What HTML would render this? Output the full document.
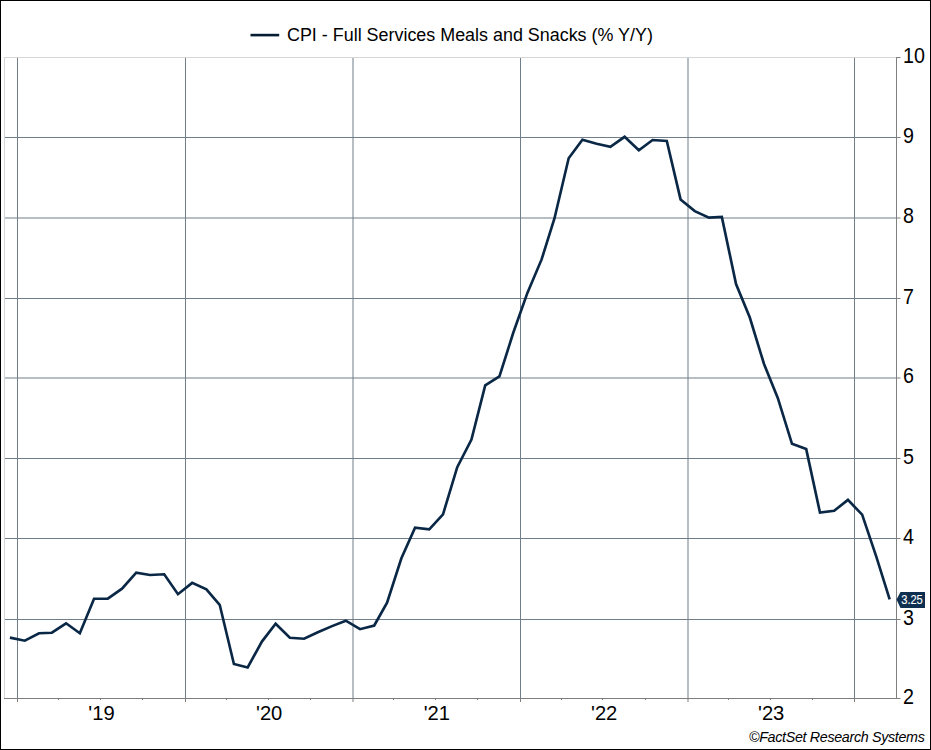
<!DOCTYPE html>
<html><head><meta charset="utf-8"><style>
html,body{margin:0;padding:0;}
body{width:931px;height:750px;position:relative;overflow:hidden;background:#fff;font-family:"Liberation Sans",sans-serif;}
.frame{position:absolute;left:0;top:0;width:931px;height:750px;box-sizing:border-box;border:1px solid #000;}
svg{position:absolute;left:0;top:0;}
.legend{position:absolute;left:287px;top:25px;font-size:17.92px;line-height:20px;color:#000;white-space:nowrap;}
.yl{position:absolute;left:902.8px;font-size:21.4px;transform:scaleX(0.92);transform-origin:0 0;line-height:24px;color:#000;}
.xl{position:absolute;top:701px;width:60px;text-align:center;font-size:20.2px;line-height:24px;color:#000;}
.copy{position:absolute;right:6.5px;top:728.5px;font-size:14.3px;line-height:16px;letter-spacing:-0.33px;font-style:italic;color:#000;white-space:nowrap;}
.tag{position:absolute;left:899.8px;top:592px;width:24px;height:16px;font-size:12.4px;line-height:16px;color:#fff;text-align:center;font-weight:normal;transform:scaleX(0.9);letter-spacing:-0.1px;-webkit-text-stroke:0.1px #fff;}
</style></head><body>
<svg width="931" height="750" viewBox="0 0 931 750">
<line x1="4.5" y1="57" x2="4.5" y2="698" stroke="#d6d6d6" stroke-width="1"/>
<line x1="4" y1="57.5" x2="896" y2="57.5" stroke="#d6d6d6" stroke-width="1"/>
<line x1="5" y1="137.5" x2="896" y2="137.5" stroke="#6f7e89" stroke-width="1"/><line x1="5" y1="218.0" x2="896" y2="218.0" stroke="#6f7e89" stroke-width="1"/><line x1="5" y1="298.5" x2="896" y2="298.5" stroke="#6f7e89" stroke-width="1"/><line x1="5" y1="378.0" x2="896" y2="378.0" stroke="#6f7e89" stroke-width="1"/><line x1="5" y1="458.5" x2="896" y2="458.5" stroke="#6f7e89" stroke-width="1"/><line x1="5" y1="538.5" x2="896" y2="538.5" stroke="#6f7e89" stroke-width="1"/><line x1="5" y1="619.5" x2="896" y2="619.5" stroke="#6f7e89" stroke-width="1"/><line x1="17.5" y1="58" x2="17.5" y2="698" stroke="#6f7e89" stroke-width="1"/><line x1="185.5" y1="58" x2="185.5" y2="698" stroke="#6f7e89" stroke-width="1"/><line x1="353.0" y1="58" x2="353.0" y2="698" stroke="#6f7e89" stroke-width="1"/><line x1="520.5" y1="58" x2="520.5" y2="698" stroke="#6f7e89" stroke-width="1"/><line x1="688.0" y1="58" x2="688.0" y2="698" stroke="#6f7e89" stroke-width="1"/><line x1="854.5" y1="58" x2="854.5" y2="698" stroke="#6f7e89" stroke-width="1"/>
<line x1="896.5" y1="57" x2="896.5" y2="699" stroke="#7f7f7f" stroke-width="1"/>
<line x1="4" y1="698.5" x2="897" y2="698.5" stroke="#7f7f7f" stroke-width="1"/>
<line x1="896" y1="57.5" x2="900.5" y2="57.5" stroke="#7f7f7f" stroke-width="1"/><line x1="896" y1="137.5" x2="900.5" y2="137.5" stroke="#7f7f7f" stroke-width="1"/><line x1="896" y1="218.0" x2="900.5" y2="218.0" stroke="#7f7f7f" stroke-width="1"/><line x1="896" y1="298.5" x2="900.5" y2="298.5" stroke="#7f7f7f" stroke-width="1"/><line x1="896" y1="378.0" x2="900.5" y2="378.0" stroke="#7f7f7f" stroke-width="1"/><line x1="896" y1="458.5" x2="900.5" y2="458.5" stroke="#7f7f7f" stroke-width="1"/><line x1="896" y1="538.5" x2="900.5" y2="538.5" stroke="#7f7f7f" stroke-width="1"/><line x1="896" y1="619.5" x2="900.5" y2="619.5" stroke="#7f7f7f" stroke-width="1"/><line x1="896" y1="698.5" x2="900.5" y2="698.5" stroke="#7f7f7f" stroke-width="1"/><line x1="17.5" y1="698" x2="17.5" y2="702" stroke="#7f7f7f" stroke-width="1"/><line x1="185.5" y1="698" x2="185.5" y2="702" stroke="#7f7f7f" stroke-width="1"/><line x1="353.0" y1="698" x2="353.0" y2="702" stroke="#7f7f7f" stroke-width="1"/><line x1="520.5" y1="698" x2="520.5" y2="702" stroke="#7f7f7f" stroke-width="1"/><line x1="688.0" y1="698" x2="688.0" y2="702" stroke="#7f7f7f" stroke-width="1"/><line x1="854.5" y1="698" x2="854.5" y2="702" stroke="#7f7f7f" stroke-width="1"/><line x1="58.5" y1="698" x2="58.5" y2="700" stroke="#7f7f7f" stroke-width="1"/><line x1="100.5" y1="698" x2="100.5" y2="700" stroke="#7f7f7f" stroke-width="1"/><line x1="142.5" y1="698" x2="142.5" y2="700" stroke="#7f7f7f" stroke-width="1"/><line x1="226.5" y1="698" x2="226.5" y2="700" stroke="#7f7f7f" stroke-width="1"/><line x1="268.5" y1="698" x2="268.5" y2="700" stroke="#7f7f7f" stroke-width="1"/><line x1="310.5" y1="698" x2="310.5" y2="700" stroke="#7f7f7f" stroke-width="1"/><line x1="393.5" y1="698" x2="393.5" y2="700" stroke="#7f7f7f" stroke-width="1"/><line x1="435.5" y1="698" x2="435.5" y2="700" stroke="#7f7f7f" stroke-width="1"/><line x1="477.5" y1="698" x2="477.5" y2="700" stroke="#7f7f7f" stroke-width="1"/><line x1="561.5" y1="698" x2="561.5" y2="700" stroke="#7f7f7f" stroke-width="1"/><line x1="602.5" y1="698" x2="602.5" y2="700" stroke="#7f7f7f" stroke-width="1"/><line x1="645.5" y1="698" x2="645.5" y2="700" stroke="#7f7f7f" stroke-width="1"/><line x1="728.5" y1="698" x2="728.5" y2="700" stroke="#7f7f7f" stroke-width="1"/><line x1="770.5" y1="698" x2="770.5" y2="700" stroke="#7f7f7f" stroke-width="1"/><line x1="812.5" y1="698" x2="812.5" y2="700" stroke="#7f7f7f" stroke-width="1"/>
<path d="M9.90,637.60 L24.81,640.70 L39.02,633.30 L51.86,632.70 L66.08,623.30 L79.83,633.30 L94.05,598.70 L107.81,598.70 L122.02,588.70 L136.24,572.70 L150.00,575.00 L164.21,574.30 L177.97,594.20 L192.18,582.90 L206.40,589.30 L219.70,604.80 L233.91,664.00 L247.67,667.50 L261.89,641.60 L275.64,623.80 L289.86,637.70 L304.07,638.70 L317.83,632.30 L332.05,626.10 L345.80,620.70 L360.02,629.20 L374.23,625.50 L387.07,602.70 L401.29,558.50 L415.05,527.70 L429.26,529.40 L443.02,514.30 L457.24,467.20 L471.45,439.60 L485.21,385.40 L499.42,376.40 L513.18,333.00 L527.40,292.90 L541.61,259.40 L554.45,218.50 L568.67,158.20 L582.42,139.80 L596.64,143.80 L610.40,146.80 L624.61,136.80 L638.83,150.30 L652.59,140.00 L666.80,140.90 L680.56,199.40 L694.77,211.10 L708.99,217.60 L721.83,216.90 L736.04,284.00 L749.80,317.50 L764.02,364.00 L777.77,397.90 L791.99,443.80 L806.21,449.10 L819.96,512.50 L834.18,510.70 L847.94,499.90 L862.15,514.70 L876.37,556.90 L889.67,599.40" fill="none" stroke="#0a2846" stroke-width="2.65" stroke-linejoin="miter" stroke-linecap="butt"/>
<line x1="250.5" y1="35.1" x2="279.2" y2="35.1" stroke="#051c33" stroke-width="2.6"/>
<path d="M896.5,599.5 L900.5,592 L925,592 L925,608 L900.5,608 Z" fill="#0e2f4f"/>
</svg>
<div class="legend">CPI - Full Services Meals and Snacks (% Y/Y)</div>
<div class="yl" style="top:43.9px">10</div><div class="yl" style="top:123.9px">9</div><div class="yl" style="top:204.4px">8</div><div class="yl" style="top:284.9px">7</div><div class="yl" style="top:364.4px">6</div><div class="yl" style="top:444.9px">5</div><div class="yl" style="top:524.9px">4</div><div class="yl" style="top:605.9px">3</div><div class="yl" style="top:684.9px">2</div>
<div class="xl" style="left:71.5px">&#39;19</div><div class="xl" style="left:239.2px">&#39;20</div><div class="xl" style="left:406.8px">&#39;21</div><div class="xl" style="left:574.2px">&#39;22</div><div class="xl" style="left:741.2px">&#39;23</div>
<div class="tag">3.25</div>
<div class="copy">&copy;FactSet Research Systems</div>
<div class="frame"></div>
</body></html>
